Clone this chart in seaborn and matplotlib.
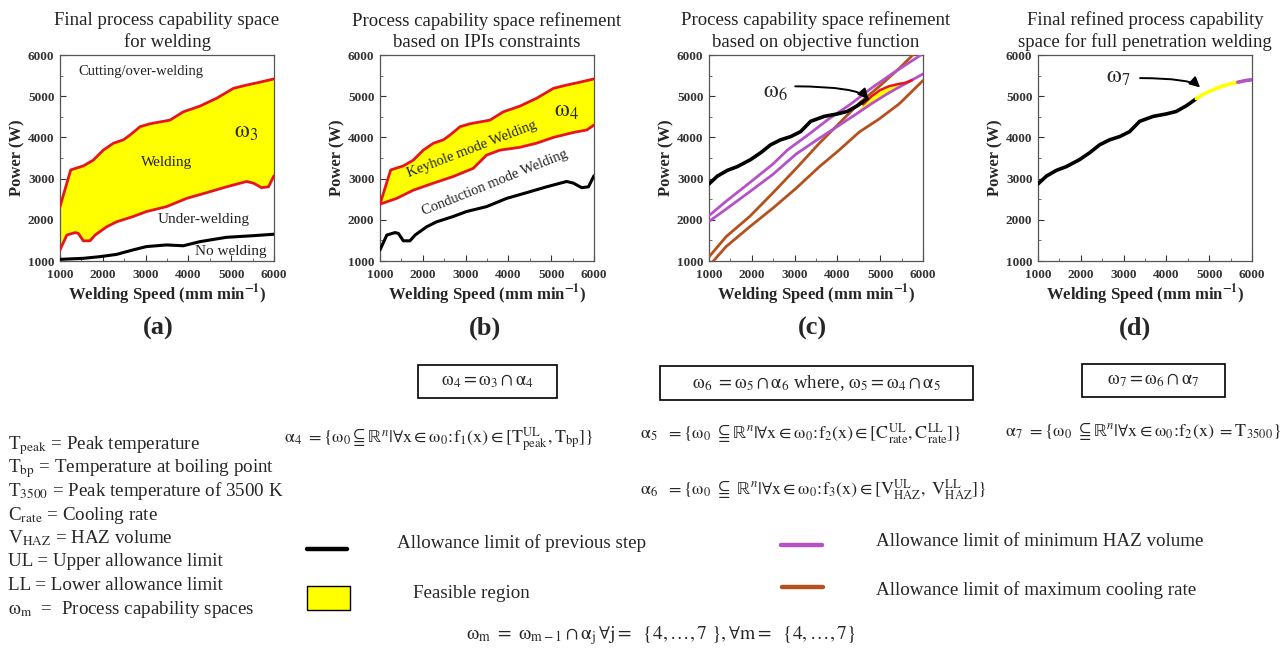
import numpy as np
import matplotlib
matplotlib.use("Agg")
import matplotlib.pyplot as plt
import seaborn as sns
from matplotlib.patches import Rectangle
from matplotlib.lines import Line2D
from matplotlib.ticker import MultipleLocator

# ---------------- data ----------------
# Panel (a): welding window
A_UP_X = [1000, 1250, 1550, 1780, 2010, 2250, 2480, 2640, 2870, 3100, 3570, 3880, 4270, 4660, 5050, 5360, 5670, 6000]
A_UP_Y = [2320, 3210, 3310, 3450, 3690, 3860, 3940, 4060, 4260, 4330, 4420, 4620, 4760, 4950, 5190, 5270, 5340, 5420]
A_LO_X = [1000, 1160, 1350, 1430, 1545, 1700, 1820, 2090, 2320, 2710, 3020, 3490, 3960, 4430, 4890, 5360, 5520, 5710, 5870, 6000]
A_LO_Y = [1270, 1630, 1690, 1670, 1490, 1490, 1630, 1830, 1950, 2080, 2200, 2320, 2520, 2660, 2800, 2930, 2890, 2780, 2800, 3070]
NOWELD_X = [1000, 1545, 1930, 2320, 2710, 3020, 3490, 3880, 4270, 4890, 5520, 6000]
NOWELD_Y = [1040, 1065, 1105, 1160, 1270, 1350, 1390, 1370, 1470, 1575, 1615, 1650]

# Panel (b): keyhole window
B_UP_X = [1000, 1250, 1550, 1780, 2010, 2250, 2480, 2640, 2870, 3100, 3570, 3880, 4270, 4660, 5050, 5360, 5670, 6000]
B_UP_Y = [2380, 3210, 3310, 3450, 3690, 3860, 3940, 4060, 4260, 4330, 4420, 4620, 4760, 4950, 5190, 5270, 5340, 5420]
B_LO_X = [1000, 1390, 1780, 2250, 2710, 3180, 3490, 3800, 4270, 4660, 5050, 5520, 5830, 6000]
B_LO_Y = [2380, 2520, 2720, 2890, 3050, 3250, 3570, 3690, 3760, 3860, 4000, 4120, 4180, 4300]

# Panels (c), (d): previous-step limit
PREV_X = [1000, 1195, 1430, 1660, 1970, 2210, 2440, 2670, 2910, 3140, 3375, 3690, 4000, 4230, 4470, 4700]
PREV_Y = [2870, 3060, 3200, 3290, 3460, 3630, 3820, 3940, 4020, 4140, 4390, 4510, 4570, 4630, 4770, 4940]

# Panel (c): HAZ volume limits (purple) and cooling-rate limits (brown)
HAZ_UP_X = [1000, 1400, 1950, 2490, 2840, 3300, 3800, 4300, 4800, 5300, 5950]
HAZ_UP_Y = [2100, 2450, 2900, 3350, 3700, 4050, 4450, 4800, 5200, 5560, 6000]
HAZ_LO_X = [1000, 1400, 1950, 2490, 3040, 3580, 4050, 4400, 4800, 5200, 5600, 6000]
HAZ_LO_Y = [1960, 2260, 2680, 3100, 3600, 3980, 4300, 4540, 4820, 5080, 5310, 5540]
CR_UP_X = [1000, 1400, 1950, 2490, 3040, 3580, 4050, 4510, 4980, 5450, 5780]
CR_UP_Y = [1100, 1590, 2080, 2650, 3250, 3860, 4350, 4830, 5240, 5680, 6020]
CR_LO_X = [1000, 1400, 1950, 2490, 3040, 3580, 4050, 4510, 4980, 5450, 6000]
CR_LO_Y = [880, 1350, 1830, 2280, 2770, 3290, 3700, 4130, 4450, 4820, 5380]

# Panel (c): feasible lens omega_6
W6_X = [4400, 4600, 4800, 5000, 5200, 5400, 5600, 5740]
W6_LO = [4540, 4680, 4820, 4950, 5080, 5200, 5310, 5390]
W6_UP = [4560, 4800, 5000, 5150, 5240, 5290, 5330, 5390]

# Panel (d): omega_7 segment and tail
W7_X = [4700, 4850, 5010, 5170, 5320, 5500, 5670]
W7_Y = [4940, 5040, 5120, 5190, 5250, 5300, 5340]
TAIL_X = [5670, 5850, 6000]
TAIL_Y = [5340, 5380, 5400]

TITLES = ["Final process capability space\nfor welding",
          "Process capability space refinement\nbased on IPIs constraints",
          "Process capability space refinement\nbased on objective function",
          "Final refined process capability\nspace for full penetration welding"]
PANEL_TAGS = ["(a)", "(b)", "(c)", "(d)"]

# ---------------- style ----------------
sns.set_style("ticks")
plt.rcParams['font.family'] = ['Liberation Serif', 'DejaVu Serif']
plt.rcParams['mathtext.fontset'] = 'stix'
plt.rcParams['mathtext.default'] = 'rm'

RED = '#e8141c'
YEL = '#ffff00'
PUR = '#b552c8'
BRN = '#b5511c'

W, H = 1288, 657
fig = plt.figure(figsize=(W / 100, H / 100), dpi=100)


def fx(p):
    return p / W


def fy(p):
    return 1 - p / H


def line(ax, x, y, color, lw=2.0, z=3):
    sns.lineplot(x=x, y=y, ax=ax, color=color, linewidth=lw, sort=False,
                 estimator=None, zorder=z, legend=False)


axes = []
for i, L in enumerate([60, 380, 709, 1038]):
    ax = fig.add_axes([fx(L), fy(261), 214 / W, 206 / H])
    ax.set_xlim(1000, 6000)
    ax.set_ylim(1000, 6000)
    ax.xaxis.set_major_locator(MultipleLocator(1000))
    ax.yaxis.set_major_locator(MultipleLocator(1000))
    ax.xaxis.set_minor_locator(MultipleLocator(500))
    ax.yaxis.set_minor_locator(MultipleLocator(500))
    ax.tick_params(which='major', direction='in', length=4, width=0.8, labelsize=9.5,
                   colors='#333333')
    ax.tick_params(axis='x', which='major', pad=5.5)
    ax.tick_params(axis='y', which='major', pad=4)
    ax.tick_params(which='minor', direction='in', length=2, width=0.6, colors='#555555')
    for lab in ax.get_xticklabels() + ax.get_yticklabels():
        lab.set_fontweight('bold')
    for s in ax.spines.values():
        s.set_color('#555555')
        s.set_linewidth(0.9)
    ax.set_xlabel(r"Welding Speed (mm min$^{\mathbf{-1}}$)", fontsize=12, fontweight='bold', labelpad=1)
    ax.set_ylabel("Power (W)", fontsize=12, fontweight='bold', labelpad=2)
    ax.set_title(TITLES[i], fontsize=13.5, pad=6, linespacing=1.25, color='#222222')
    axes.append(ax)

for i, cx in enumerate([158, 485, 812, 1135]):
    fig.text(fx(cx), fy(328), PANEL_TAGS[i], ha='center', va='center', fontsize=19, fontweight='bold')

# ----- (a) -----
ax = axes[0]
ax.fill(np.r_[A_UP_X, A_LO_X[::-1]], np.r_[A_UP_Y, A_LO_Y[::-1]], color=YEL, lw=0, zorder=1)
line(ax, A_UP_X, A_UP_Y, RED)
line(ax, A_LO_X, A_LO_Y, RED)
line(ax, NOWELD_X, NOWELD_Y, 'black', lw=2.2)
ax.text(1430, 5600, "Cutting/over-welding", fontsize=10.5, va='center', color='#222222')
ax.text(3500, 3400, "Welding", fontsize=11, ha='center', va='center', color='#222222')
ax.text(5350, 4130, r"$\omega_3$", fontsize=17, ha='center', va='center')
ax.text(4360, 2000, "Under-welding", fontsize=11, ha='center', va='center', color='#222222')
ax.text(5000, 1230, "No welding", fontsize=11, ha='center', va='center', color='#222222')

# ----- (b) -----
ax = axes[1]
ax.fill(np.r_[B_UP_X, B_LO_X[::-1]], np.r_[B_UP_Y, B_LO_Y[::-1]], color=YEL, lw=0, zorder=1)
line(ax, B_UP_X, B_UP_Y, RED)
line(ax, B_LO_X, B_LO_Y, RED)
line(ax, A_LO_X, A_LO_Y, 'black', lw=2.2)
ax.text(3150, 3700, "Keyhole mode Welding", fontsize=10.5, ha='center', va='center',
        rotation=21, color='#222222')
ax.text(3680, 2900, "Conduction mode Welding", fontsize=10.5, ha='center', va='center',
        rotation=22, color='#222222')
ax.text(5350, 4640, r"$\omega_4$", fontsize=17, ha='center', va='center')

# ----- (c) -----
ax = axes[2]
ax.fill_between(W6_X, W6_LO, W6_UP, color=YEL, lw=0, zorder=1)
line(ax, CR_UP_X, CR_UP_Y, BRN)
line(ax, CR_LO_X, CR_LO_Y, BRN)
line(ax, HAZ_UP_X, HAZ_UP_Y, PUR)
line(ax, HAZ_LO_X, HAZ_LO_Y, PUR)
line(ax, W6_X[1:], W6_UP[1:], RED, lw=1.8, z=4)
line(ax, PREV_X, PREV_Y, 'black', lw=2.6, z=5)
ax.text(2560, 5100, r"$\omega_6$", fontsize=17, ha='center', va='center')
ax.annotate("", xy=(4760, 4870), xytext=(2950, 5240),
            arrowprops=dict(arrowstyle="-|>,head_length=0.6,head_width=0.3", color='black', lw=1.4,
                            connectionstyle="angle3,angleA=0,angleB=115"), zorder=6)

# ----- (d) -----
ax = axes[3]
line(ax, PREV_X, PREV_Y, 'black', lw=2.6)
line(ax, W7_X, W7_Y, YEL, lw=2.6)
line(ax, TAIL_X, TAIL_Y, PUR, lw=2.6)
ax.text(2870, 5450, r"$\omega_7$", fontsize=17, ha='center', va='center')
ax.annotate("", xy=(4830, 5160), xytext=(3320, 5440),
            arrowprops=dict(arrowstyle="-|>,head_length=0.6,head_width=0.3", color='black', lw=1.4,
                            connectionstyle="angle3,angleA=0,angleB=120"), zorder=6)

# ---------------- lower annotation area ----------------
FS = 13.7
defs = [r"T$_{\mathrm{peak}}$ = Peak temperature",
        r"T$_{\mathrm{bp}}$ = Temperature at boiling point",
        r"T$_{3500}$ = Peak temperature of 3500 K",
        r"C$_{\mathrm{rate}}$ = Cooling rate",
        r"V$_{\mathrm{HAZ}}$ = HAZ volume",
        "UL = Upper allowance limit",
        "LL = Lower allowance limit",
        r"$\omega_{\mathrm{m}}$  =  Process capability spaces"]
for k, t in enumerate(defs):
    fig.text(fx(8), fy(449 + 23.5 * k), t, fontsize=FS, va='baseline', ha='left')

# boxes
for (x0, x1, y0, y1, txt) in [
        (418, 557, 365, 398, r"$\omega_4 = \omega_3 \cap \alpha_4$"),
        (660, 973, 366, 400, r"$\omega_6\ = \omega_5 \cap \alpha_6$ where, $\omega_5 = \omega_4 \cap \alpha_5$"),
        (1082, 1225, 364, 397, r"$\omega_7 = \omega_6 \cap \alpha_7$")]:
    fig.add_artist(Rectangle((fx(x0), fy(y1)), (x1 - x0) / W, (y1 - y0) / H,
                             transform=fig.transFigure, fill=False, ec='black', lw=1.2))
    fig.text(fx((x0 + x1) / 2), fy((y0 + y1) / 2), txt, ha='center', va='center', fontsize=13.5)

FF = 13
fig.text(fx(284), fy(440),
         r"$\alpha_4\ =\{\omega_0\subseteqq\mathbb{R}^{\mathit{n}}|\forall\mathrm{x}\in\omega_0\!:\!\mathrm{f}_1(\mathrm{x})\in[\mathrm{T}^{\mathrm{UL}}_{\mathrm{peak}},\mathrm{T}_{\mathrm{bp}}]\}$",
         fontsize=FF, ha='left', va='center')
fig.text(fx(640), fy(434),
         r"$\alpha_5\ \ =\{\omega_0\ \subseteqq\mathbb{R}^{\mathit{n}}|\forall\mathrm{x}\in\omega_0\!:\!\mathrm{f}_2(\mathrm{x})\in[\mathrm{C}^{\mathrm{UL}}_{\mathrm{rate}},\mathrm{C}^{\mathrm{LL}}_{\mathrm{rate}}]\}$",
         fontsize=FF, ha='left', va='center')
fig.text(fx(640), fy(490),
         r"$\alpha_6\ \ =\{\omega_0\ \subseteqq\ \mathbb{R}^{\mathit{n}}|\forall\mathrm{x}\in\omega_0\!:\!\mathrm{f}_3(\mathrm{x})\in[\mathrm{V}^{\mathrm{UL}}_{\mathrm{HAZ}},\ \mathrm{V}^{\mathrm{LL}}_{\mathrm{HAZ}}]\}$",
         fontsize=FF, ha='left', va='center')
fig.text(fx(1005), fy(431),
         r"$\alpha_7\ =\{\omega_0\ \subseteqq\mathbb{R}^{\mathit{n}}|\forall\mathrm{x}\in\omega_0\!:\!\mathrm{f}_2(\mathrm{x})\ =\mathrm{T}_{3500}\}$",
         fontsize=FF, ha='left', va='center')

# legend entries
fig.add_artist(Line2D([fx(307), fx(347)], [fy(549), fy(549)], transform=fig.transFigure, color='black', lw=3.2))
fig.text(fx(397), fy(543), "Allowance limit of previous step", fontsize=FS, ha='left', va='center')
fig.add_artist(Rectangle((fx(307), fy(610)), 43 / W, 24 / H, transform=fig.transFigure,
                         fc=YEL, ec='black', lw=1.0))
fig.text(fx(413), fy(594), "Feasible region", fontsize=FS, ha='left', va='center')
fig.add_artist(Line2D([fx(781), fx(822)], [fy(545), fy(545)], transform=fig.transFigure, color=PUR, lw=3.2))
fig.text(fx(876), fy(542), "Allowance limit of minimum HAZ volume", fontsize=FS, ha='left', va='center')
fig.add_artist(Line2D([fx(782), fx(823)], [fy(587), fy(587)], transform=fig.transFigure, color=BRN, lw=3.2))
fig.text(fx(876), fy(590), "Allowance limit of maximum cooling rate", fontsize=FS, ha='left', va='center')

fig.text(fx(661), fy(636),
         r"$\omega_{\mathrm{m}}\ =\ \omega_{\mathrm{m}-1}\cap\alpha_{\mathrm{j}}\,\forall\mathrm{j}=\ \ \{4,\ldots,7\ \},\forall\mathrm{m}=\ \ \{4,\ldots,7\}$",
         fontsize=14, ha='center', va='center')

fig.savefig("out.png", dpi=100)
